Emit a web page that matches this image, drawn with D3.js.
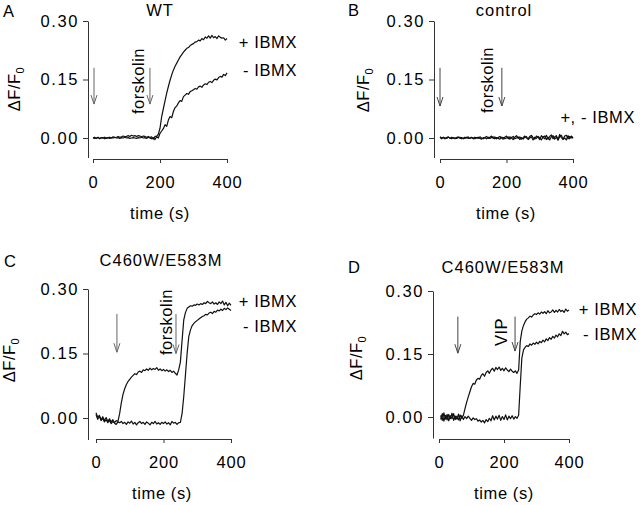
<!DOCTYPE html>
<html><head><meta charset="utf-8">
<script src="https://cdn.jsdelivr.net/npm/d3@7"></script>
<style>
body{margin:0;background:#fff}
svg{display:block}
text{font-family:"Liberation Sans",Arial,Helvetica,sans-serif;fill:#000}
</style>
</head><body><svg id="chart" width="640" height="505"></svg>
<script>
// ---------- DATA ----------
const timeFull = d3.range(0, 401, 5);   // 0..400 s, 5 s sampling
const timeD = d3.range(5, 401, 5);      // 5..400 s

const yTickValues = [0, 0.15, 0.30];
const xTickValues = [0, 200, 400];
const legendPlus = "+ IBMX";
const legendMinus = "- IBMX";

// Panel A (WT)
const aPlus = [
 0.000, 0.002,-0.001, 0.001,-0.002, 0.001, 0.000, 0.002,-0.001, 0.001,
 0.002, 0.000, 0.003, 0.001, 0.002, 0.004, 0.002, 0.003, 0.005, 0.003,
 0.004, 0.006, 0.004, 0.007, 0.005, 0.006, 0.004, 0.006, 0.005, 0.003,
 0.005, 0.004, 0.002, 0.004, 0.001, 0.003,-0.003, 0.004, 0.004, 0.010,
 0.025, 0.055, 0.075, 0.095, 0.115, 0.132, 0.148, 0.162, 0.174, 0.184,
 0.192, 0.200, 0.208, 0.214, 0.220, 0.225, 0.230, 0.232, 0.237, 0.240,
 0.242, 0.246, 0.247, 0.251, 0.249, 0.255, 0.252, 0.259, 0.256, 0.262,
 0.256, 0.263, 0.257, 0.260, 0.255, 0.262, 0.258, 0.256, 0.257, 0.251,
 0.255];
const aMinus = [
 0.001,-0.001, 0.000, 0.002,-0.001, 0.000, 0.001,-0.002, 0.000, 0.001,
-0.001, 0.001, 0.000, 0.002, 0.000, 0.001,-0.001, 0.001, 0.000, 0.002,
 0.000, 0.001,-0.001, 0.000, 0.001, 0.000,-0.001, 0.001, 0.000, 0.002,
 0.000, 0.001,-0.001, 0.002, 0.000,-0.002, 0.001,-0.004, 0.003, 0.000,
 0.012, 0.018, 0.024, 0.034, 0.030, 0.046, 0.055, 0.052, 0.068, 0.078,
 0.082, 0.090, 0.096, 0.094, 0.106, 0.110, 0.114, 0.112, 0.119, 0.121,
 0.124, 0.127, 0.125, 0.131, 0.133, 0.130, 0.136, 0.139, 0.137, 0.143,
 0.145, 0.142, 0.148, 0.151, 0.149, 0.155, 0.158, 0.156, 0.163, 0.160,
 0.167];

// Panel B (control)
const bPlus = [
 0.003, 0.000, 0.002,-0.002, 0.001, 0.003,-0.001, 0.002, 0.000,-0.002,
 0.001, 0.003,-0.001, 0.001,-0.002, 0.002, 0.000, 0.003,-0.001, 0.001,
-0.002, 0.002, 0.000,-0.001, 0.003, 0.000,-0.002, 0.001, 0.004,-0.001,
 0.002, 0.005,-0.001, 0.003,-0.002, 0.001, 0.004, 0.000,-0.003, 0.002,
 0.005,-0.002, 0.003, 0.000,-0.004, 0.002, 0.006,-0.001, 0.003,-0.003,
 0.001, 0.005, 0.000,-0.002, 0.004, 0.007, 0.001,-0.003, 0.005, 0.002,
-0.004, 0.006, 0.001,-0.002, 0.007,-0.003, 0.004, 0.008,-0.002, 0.003,
 0.006,-0.004, 0.009, 0.001,-0.003, 0.005, 0.007,-0.002, 0.004, 0.000,
 0.003];
const bMinus = [
 0.001,-0.002, 0.001, 0.000,-0.001, 0.002, 0.000,-0.002, 0.001, 0.000,
-0.001, 0.001, 0.002,-0.002, 0.000,-0.001, 0.002,-0.001, 0.000, 0.002,
 0.000,-0.002, 0.001, 0.002,-0.001,-0.003, 0.001, 0.000,-0.002, 0.002,
-0.001, 0.001, 0.003,-0.002, 0.001,-0.001,-0.003, 0.002, 0.001,-0.002,
 0.000, 0.003,-0.003, 0.001, 0.004,-0.002, 0.000, 0.003,-0.004, 0.001,
-0.003, 0.002, 0.004,-0.004, 0.000, 0.003,-0.005, 0.002,-0.001, 0.004,
 0.000,-0.005, 0.003, 0.005,-0.004, 0.002,-0.005, 0.003, 0.006,-0.003,
 0.002,-0.006, 0.004, 0.007,-0.004, 0.000,-0.005, 0.006,-0.002, 0.005,
-0.001];

// Panel C (C460W/E583M, forskolin)
const cPlus = [
 0.012, 0.002, 0.006,-0.004, 0.003,-0.006, 0.001,-0.008,-0.002,-0.009,
-0.004,-0.011,-0.006,-0.008, 0.010, 0.035, 0.055, 0.068, 0.078, 0.085,
 0.090, 0.095, 0.099, 0.103, 0.101, 0.107, 0.109, 0.106, 0.112, 0.110,
 0.114, 0.111, 0.116, 0.112, 0.115, 0.113, 0.117, 0.111, 0.114, 0.110,
 0.113, 0.109, 0.112, 0.108, 0.111, 0.106, 0.109, 0.104, 0.100, 0.112,
 0.130, 0.180, 0.228, 0.245, 0.255, 0.258, 0.261, 0.260, 0.263, 0.262,
 0.265, 0.263, 0.266, 0.264, 0.268, 0.266, 0.271, 0.268, 0.266, 0.270,
 0.265, 0.268, 0.264, 0.270, 0.266, 0.272, 0.263, 0.269, 0.261, 0.267,
 0.262];
const cMinus = [
 0.008,-0.003, 0.004,-0.006,-0.001,-0.009,-0.004,-0.011,-0.006,-0.013,
-0.008,-0.012,-0.015,-0.009,-0.011,-0.008,-0.013,-0.010,-0.015,-0.009,
-0.012,-0.007,-0.014,-0.010,-0.016,-0.011,-0.008,-0.013,-0.010,-0.015,
-0.009,-0.012,-0.016,-0.010,-0.013,-0.008,-0.014,-0.011,-0.015,-0.010,
-0.013,-0.009,-0.014,-0.011,-0.016,-0.008,-0.012,-0.010,-0.015,-0.011,
-0.010, 0.010, 0.050, 0.100, 0.150, 0.190, 0.205, 0.215, 0.220, 0.224,
 0.227, 0.230, 0.233, 0.236, 0.238, 0.241, 0.240, 0.244, 0.246, 0.243,
 0.248, 0.246, 0.251, 0.249, 0.253, 0.250, 0.255, 0.252, 0.256, 0.253,
 0.250];

// Panel D (C460W/E583M, VIP) — starts at 5 s
const dPlus = [
 0.004,-0.008, 0.010,-0.005, 0.006,-0.009, 0.003,-0.004, 0.008,-0.006,
 0.002,-0.007, 0.005,-0.003, 0.004, 0.020, 0.035, 0.048, 0.060, 0.072,
 0.080, 0.078, 0.088, 0.092, 0.090, 0.099, 0.103, 0.097, 0.106, 0.110,
 0.104, 0.112, 0.116, 0.109, 0.118, 0.113, 0.119, 0.111, 0.116, 0.110,
 0.117, 0.112, 0.108, 0.114, 0.109, 0.106, 0.110, 0.104, 0.112, 0.180,
 0.205, 0.218, 0.227, 0.233, 0.236, 0.240, 0.238, 0.243, 0.246, 0.244,
 0.248, 0.245, 0.250, 0.247, 0.251, 0.246, 0.253, 0.248, 0.250, 0.255,
 0.249, 0.254, 0.250, 0.256, 0.251, 0.254, 0.249, 0.257, 0.252, 0.255];
const dMinus = [
-0.006, 0.008,-0.010, 0.004,-0.007, 0.006,-0.004, 0.009,-0.008, 0.002,
-0.005, 0.007,-0.009, 0.003,-0.006, 0.001,-0.004, 0.002,-0.003,-0.008,
-0.002,-0.006,-0.004,-0.010,-0.007,-0.012,-0.008,-0.014,-0.006,-0.011,
-0.003,-0.009, 0.003,-0.007, 0.002,-0.005, 0.004,-0.008, 0.001,-0.006,
 0.005,-0.007, 0.002,-0.004, 0.003,-0.005, 0.001,-0.003, 0.004, 0.075,
 0.141, 0.160, 0.166, 0.170, 0.168, 0.174, 0.171, 0.176, 0.173, 0.178,
 0.174, 0.180, 0.177, 0.183, 0.179, 0.186, 0.182, 0.189, 0.185, 0.192,
 0.188, 0.195, 0.191, 0.198, 0.194, 0.204, 0.198, 0.202, 0.196, 0.199];

// Additions (arrows): time of addition, arrow top/bottom in ΔF/F0 units
const eventsA = [{t:3, top:0.18, bot:0.087}, {t:170, top:0.18, bot:0.087, label:"forskolin"}];
const eventsB = [{t:0, top:0.18, bot:0.082}, {t:186, top:0.18, bot:0.082, label:"forskolin"}];
const eventsC = [{t:62, top:0.242, bot:0.153}, {t:237, top:0.242, bot:0.150, label:"forskolin"}];
const eventsD = [{t:58, top:0.239, bot:0.152}, {t:234, top:0.239, bot:0.157, label:"VIP"}];

// ---------- LAYOUT ----------
const panels = [
 {letter:"A", title:"WT", time:timeFull, plus:aPlus, minus:aMinus, events:eventsA,
  legend:[legendPlus, legendMinus],
  axX:88, xr:[93,227], yr:[157.5,21], axY:159,
  letterPos:[3,17], titlePos:[160,16], ylabPos:[20,89], xlabPos:[160,219],
  legX:297, legY:[48,76], evLab:[144,81], arrowCol:"#666"},
 {letter:"B", title:"control", time:timeFull, plus:bPlus, minus:bMinus, events:eventsB,
  legend:["+, - IBMX"],
  axX:434, xr:[440,573], yr:[157.5,21], axY:159,
  letterPos:[348,16], titlePos:[504,16], ylabPos:[369,90], xlabPos:[506,219],
  legX:635, legY:[123], evLab:[493,80], arrowCol:"#444"},
 {letter:"C", title:"C460W/E583M", time:timeFull, plus:cPlus, minus:cMinus, events:eventsC,
  legend:[legendPlus, legendMinus],
  axX:88, xr:[96,231], yr:[439.5,289], axY:439,
  letterPos:[4,267], titlePos:[161,266], ylabPos:[15,360], xlabPos:[162,499],
  legX:297, legY:[307,332], evLab:[172,322], arrowCol:"#666"},
 {letter:"D", title:"C460W/E583M", time:timeD, plus:dPlus, minus:dMinus, events:eventsD,
  legend:[legendPlus, legendMinus],
  axX:433, xr:[439,569], yr:[438,291], axY:439,
  letterPos:[348,273], titlePos:[503,273], ylabPos:[362,358], xlabPos:[504,499],
  legX:637, legY:[315,340], evLab:[507,332], arrowCol:"#444"}
];

const svg = d3.select("#chart");
const FS = 16.5;

function label(g, x, y, str, anchor, ls) {
  return g.append("text").attr("x", x).attr("y", y)
    .attr("text-anchor", anchor).attr("font-size", FS)
    .style("letter-spacing", (ls == null ? 0.8 : ls) + "px")
    .text(str);
}

panels.forEach(p => {
  const g = svg.append("g");
  const x = d3.scaleLinear().domain([0, 400]).range(p.xr);
  const y = d3.scaleLinear().domain([-0.05, 0.30]).range(p.yr);

  // axes
  const ya = g.append("g").attr("transform", `translate(${p.axX},0)`)
    .call(d3.axisLeft(y).tickValues(yTickValues).tickFormat(d3.format(".2f"))
      .tickSizeInner(5).tickSizeOuter(0).tickPadding(4));
  const xa = g.append("g").attr("transform", `translate(0,${p.axY})`)
    .call(d3.axisBottom(x).tickValues(xTickValues).tickFormat(d3.format("d"))
      .tickSizeInner(4).tickSizeOuter(0).tickPadding(13));
  [ya, xa].forEach(a => {
    a.attr("font-family", null).attr("font-size", null);
    a.selectAll("path,line").attr("stroke", "#333").attr("stroke-width", 1);
    a.selectAll("text").attr("font-size", FS).attr("fill", "#000");
  });
  ya.selectAll("text").style("letter-spacing", "1.6px");
  xa.selectAll("text").style("letter-spacing", "0.8px");

  // traces
  const line = d3.line().x((d, i) => x(p.time[i])).y(d => y(d));
  [p.minus, p.plus].forEach(s => {
    g.append("path").datum(s).attr("d", line)
      .attr("fill", "none").attr("stroke", "#111")
      .attr("stroke-width", 1.2).attr("stroke-linejoin", "round");
  });

  // addition arrows
  p.events.forEach(e => {
    const ax = x(e.t), y0 = y(e.top), y1 = y(e.bot);
    g.append("path")
      .attr("d", `M${ax},${y0}L${ax},${y1}M${ax - 3},${y1 - 9}L${ax},${y1}L${ax + 3},${y1 - 9}`)
      .attr("fill", "none").attr("stroke", p.arrowCol).attr("stroke-width", 1);
    if (e.label) {
      g.append("text")
        .attr("transform", `translate(${p.evLab[0]},${p.evLab[1]}) rotate(-90)`)
        .attr("text-anchor", "middle").attr("font-size", FS)
        .style("letter-spacing", "0.5px").text(e.label);
    }
  });

  // texts
  label(g, p.letterPos[0], p.letterPos[1], p.letter, "start", 0);
  label(g, p.titlePos[0], p.titlePos[1], p.title, "middle", 1.0);
  label(g, p.xlabPos[0], p.xlabPos[1], "time (s)", "middle", 0.6);
  p.legend.forEach((t, i) => label(g, p.legX, p.legY[i], t, "end", 0.6));

  const yl = g.append("text")
    .attr("transform", `translate(${p.ylabPos[0]},${p.ylabPos[1]}) rotate(-90)`)
    .attr("text-anchor", "middle").attr("font-size", FS)
    .style("letter-spacing", "0.5px");
  yl.append("tspan").text("ΔF/F");
  yl.append("tspan").attr("dy", 4).attr("font-size", 11).text("0");
});
</script>
</body></html>
